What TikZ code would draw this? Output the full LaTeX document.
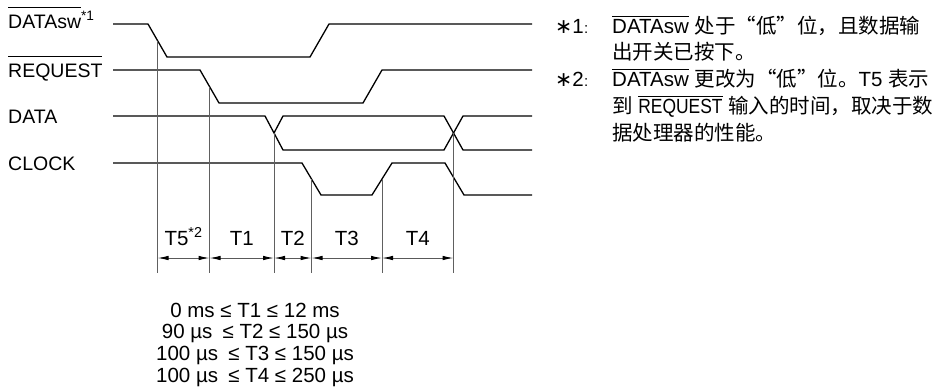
\documentclass[tikz,border=0pt]{standalone}
\usepackage{fontspec}
\setmainfont{Liberation Sans}
\newfontfamily\cjk[RawFeature=+fwid]{Noto Sans CJK SC}
\newfontfamily\symfont{DejaVu Sans}
\usepackage{graphicx}
\usepackage{tikz}
\usetikzlibrary{arrows.meta,positioning}

\newcommand\sigfont{\fontsize{19.5}{23}\selectfont}
\newcommand\dimfont{\fontsize{20.5}{24}\selectfont}
\newcommand\notefont{\fontsize{20.5}{26.5}\selectfont}
% bar over an active-low name, #1 = how high the bar sits
\newcommand\ovbar[2][1.05em]{\setbox0\hbox{#2}\rlap{\rule[#1]{\wd0}{0.05em}}\box0\relax}

\begin{document}
\begin{tikzpicture}[x=1pt,y=-1pt,
    node distance=5.5pt,
    wave/.style={line width=1.3pt,line join=miter},
    guide/.style={gray!75!black,line width=0.8pt},
    dim/.style={<->,>={Latex[length=11pt,width=4.5pt,color=black]},gray!70!black,line width=1pt},
    sig/.style={font=\sigfont,anchor=base west,inner sep=0pt},
    tlab/.style={font=\dimfont,text=black,anchor=base,inner sep=0pt,yshift=13pt},
    cond/.style={font=\dimfont,inner sep=0pt,text height=15pt,text depth=4.5pt},
    note/.style={font=\notefont,anchor=base west,inner sep=0pt,text height=16pt,text depth=5pt}
]
\useasboundingbox (0,0) rectangle (937,389);

% signal names
\node[sig] (sw) at (8,28) {\ovbar{DATAsw}\textsuperscript{*1}};
\node[sig] (req) at (8,77) {\ovbar{REQUEST}};
\node[sig] (dat) at (8,123) {DATA};
\node[sig] (clk) at (8,170) {CLOCK};

% waveforms
\draw[wave] (113,24) -- (148,24) -- (167,57) -- (310,57) -- (329,24) -- (532,24);
\draw[wave] (113,70) -- (200,70) -- (219,103) -- (363,103) -- (382,70) -- (532,70);
\draw[wave] (113,116) -- (265,116) -- (283,150) -- (444,150) -- (463,116) -- (532,116);
\draw[wave] (274,133) -- (283,116) -- (444,116) -- (463,150) -- (532,150);
\draw[wave] (113,163) -- (302,163) -- (321,195) -- (372,195) -- (392,163) -- (445,163) -- (464,195) -- (532,195);

% edges the times are taken from
\coordinate (a) at (157.5,40.5);
\coordinate (b) at (209.5,86.5);
\coordinate (c) at (274,133);
\coordinate (d) at (311.5,179);
\coordinate (e) at (382,179);
\coordinate (f) at (453.5,133);
\coordinate (dimrow) at (0,258);
\coordinate (foot) at (0,273);

\draw[guide] (a) -- (a |- foot);
\draw[guide] (b) -- (b |- foot);
\draw[guide] (c) -- (c |- foot);
\draw[guide] (d) -- (d |- foot);
\draw[guide] (e) -- (e |- foot);
\draw[guide] (f) -- (f |- foot);

% intervals, names above the arrows
\draw[dim] (a |- dimrow) -- node[tlab] {T5\textsuperscript{*2}} (b |- dimrow);
\draw[dim] (b |- dimrow) -- node[tlab] {T1} (c |- dimrow);
\draw[dim] (c |- dimrow) -- node[tlab] {T2} (d |- dimrow);
\draw[dim] (d |- dimrow) -- node[tlab] {T3} (e |- dimrow);
\draw[dim] (e |- dimrow) -- node[tlab] {T4} (f |- dimrow);

% limits
\node[cond,anchor=base] (c1) at (255,317) {0 ms ≤ T1 ≤ 12 ms};
\node[cond,below=2pt of c1] (c2) {90 µs\enspace≤ T2 ≤ 150 µs};
\node[cond,below=2pt of c2] (c3) {100 µs\enspace≤ T3 ≤ 150 µs};
\node[cond,below=2pt of c3] (c4) {100 µs\enspace≤ T4 ≤ 250 µs};

% footnotes
\node[note] (m1) at (555,33) {{\symfont ∗}1};
\node[note] (k1) at (584,33) {\fontsize{15}{15}\selectfont :};
\node[note] (n1) at (612,33) {\ovbar[0.8em]{DATAsw} {\cjk 处于“低”位，且数据输}};
\node[note,below=of n1.south west,anchor=north west] (n2) {\cjk 出开关已按下。};
\node[note,below=of n2.south west,anchor=north west] (n3) {\ovbar[0.8em]{DATAsw} {\cjk 更改为“低”位。}T5 {\cjk 表示}};
\node[note,below=of n3.south west,anchor=north west] (n4) {{\cjk 到} \ovbar[0.8em]{\scalebox{0.85}[1]{REQUEST}} {\cjk 输入的时间，取决于数}};
\node[note,below=of n4.south west,anchor=north west] (n5) {\cjk 据处理器的性能。};
\node[note] (m2) at (555,86) {{\symfont ∗}2};
\node[note] (k2) at (584,86) {\fontsize{15}{15}\selectfont :};
\end{tikzpicture}
\end{document}
